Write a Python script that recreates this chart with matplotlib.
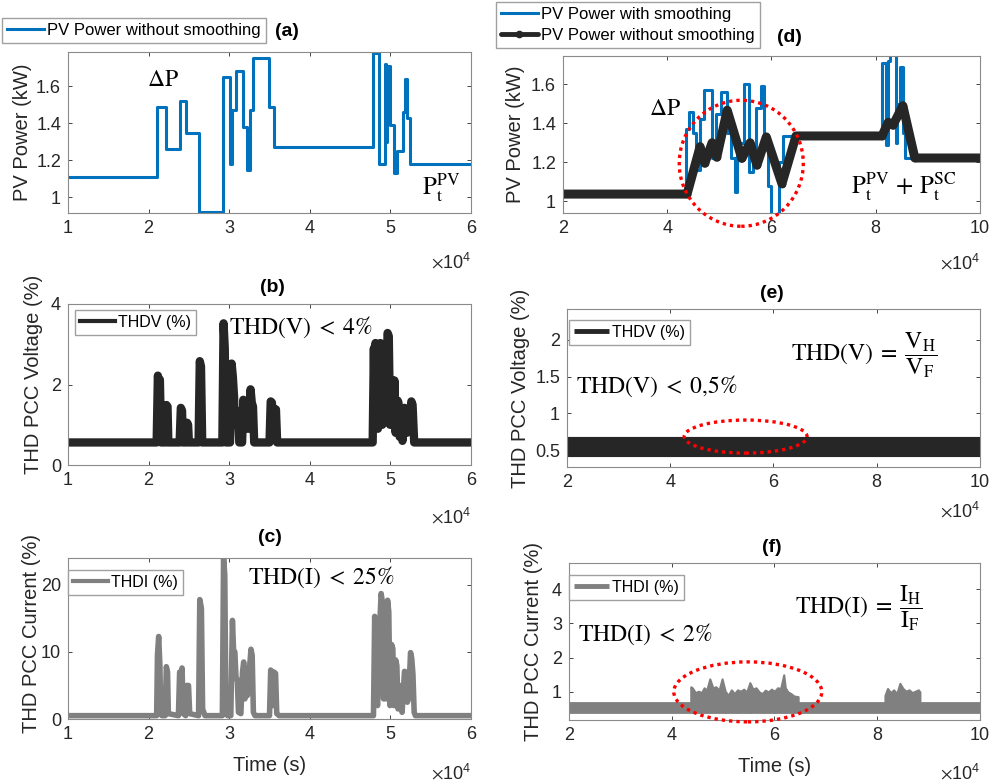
import matplotlib
matplotlib.use('Agg')
import matplotlib.pyplot as plt
from matplotlib.patches import Ellipse

plt.rcParams['font.family'] = ['Liberation Sans', 'DejaVu Sans']
plt.rcParams['mathtext.fontset'] = 'stix'
plt.rcParams['font.size'] = 12

BLUE = '#0072BD'
BLACK = '#262626'
GRAY = '#808080'
AXC = '#262626'

# ---- (a) PV power without smoothing, time in x10^4 s (step data)
a_t = [1.0, 2.10, 2.21, 2.39, 2.46, 2.63, 2.92, 3.01, 3.035, 3.09, 3.17, 3.22, 3.26,
       3.29, 3.50, 3.56, 4.79, 4.86, 4.93, 4.945, 4.955, 4.99, 5.04, 5.08, 5.16,
       5.18, 5.21, 5.24, 6.0]
a_p = [1.11, 1.49, 1.26, 1.52, 1.35, 0.92, 1.65, 1.18, 1.47, 1.68, 1.38, 1.15, 1.47,
       1.75, 1.49, 1.27, 1.78, 1.18, 1.72, 1.30, 1.71, 1.39, 1.13, 1.25, 1.46,
       1.64, 1.43, 1.18, 1.18]

# ---- (d) PV power with / without smoothing
d_blue_t = [2.0, 4.36, 4.42, 4.50, 4.56, 4.62, 4.70, 4.86, 4.94, 5.04, 5.14, 5.22,
            5.30, 5.34, 5.48, 5.56, 5.64, 5.70, 5.80, 5.86, 5.94, 6.00, 6.15, 6.22,
            8.12, 8.20, 8.23, 8.28, 8.38, 8.41, 8.46, 8.53, 8.57, 10.0]
d_blue_p = [1.035, 1.37, 1.46, 1.35, 1.16, 1.42, 1.57, 1.22, 1.45, 1.56, 1.35, 1.22,
            1.05, 1.30, 1.60, 1.15, 1.25, 1.48, 1.59, 1.30, 1.08, 0.935, 1.20, 1.335,
            1.71, 1.29, 1.72, 1.75, 1.30, 1.50, 1.69, 1.35, 1.22, 1.22]
d_black_t = [2.0, 4.38, 4.63, 4.72, 4.86, 4.95, 5.15, 5.43, 5.59, 5.72, 5.90, 6.20,
             6.47, 8.12, 8.24, 8.33, 8.52, 8.75, 10.0]
d_black_p = [1.037, 1.037, 1.28, 1.195, 1.30, 1.226, 1.467, 1.22, 1.30, 1.185, 1.33,
             1.09, 1.335, 1.335, 1.405, 1.39, 1.49, 1.222, 1.222]

# ---- (b) THD voltage without smoothing
b_t = [1.0, 2.10, 2.115, 2.13, 2.14, 2.155,
       2.21, 2.222, 2.235, 2.245,
       2.385, 2.40, 2.415, 2.425,
       2.465, 2.478, 2.49, 2.50,
       2.62, 2.635, 2.65, 2.665,
       2.915, 2.93, 2.945, 2.96,
       3.01, 3.03, 3.045, 3.06, 3.07, 3.09, 3.11, 3.125,
       3.16, 3.175, 3.19, 3.205, 3.22, 3.235, 3.25, 3.265, 3.28, 3.295, 3.31,
       3.50, 3.515, 3.53, 3.545, 3.56, 3.58, 3.595,
       4.78, 4.795, 4.805, 4.815, 4.83, 4.845, 4.875, 4.885, 4.90, 4.925, 4.94,
       4.965, 4.98, 4.995, 5.015, 5.03, 5.05, 5.065, 5.09, 5.10, 5.115, 5.135,
       5.15, 5.175, 5.19, 5.205, 5.22, 5.235, 5.26, 5.275, 5.295, 6.0]
b_v = [0.56, 0.56, 2.22, 2.05, 2.12, 0.56,
       0.56, 1.49, 1.45, 0.56,
       0.56, 1.42, 1.35, 0.56,
       0.56, 1.05, 1.0, 0.56,
       0.56, 2.58, 2.45, 0.56,
       0.56, 3.52, 2.9, 0.56,
       0.56, 2.52, 2.2, 1.7, 1.0, 1.35, 1.3, 0.56,
       0.56, 1.62, 1.1, 1.55, 1.3, 0.9, 1.35, 1.88, 1.55, 1.45, 0.56,
       0.56, 1.58, 1.55, 0.7, 1.4, 1.38, 0.56,
       0.56, 2.9, 1.2, 3.03, 2.8, 0.9, 3.03, 2.9, 1.0, 2.55, 1.2,
       3.28, 3.2, 1.0, 2.12, 1.0, 2.1, 0.8, 1.6, 1.55, 0.7, 0.95,
       0.6, 1.42, 1.4, 0.8, 1.38, 0.9, 1.58, 1.5, 0.56, 0.56]

# ---- (c) THD current without smoothing
c_t = [1.0, 2.10, 2.11, 2.125, 2.14, 2.15, 2.165,
       2.205, 2.22, 2.235, 2.245,
       2.37, 2.385, 2.40, 2.415, 2.43,
       2.46, 2.475, 2.495, 2.51,
       2.62, 2.635, 2.655, 2.67, 2.70,
       2.915, 2.93, 2.945, 2.96, 2.98,
       3.02, 3.04, 3.055, 3.07, 3.085, 3.10, 3.115,
       3.145, 3.165, 3.18, 3.195, 3.21, 3.225, 3.24, 3.255, 3.27, 3.285, 3.30, 3.32,
       3.50, 3.515, 3.53, 3.545, 3.555, 3.575, 3.59, 3.62,
       4.79, 4.805, 4.82, 4.84, 4.86, 4.885, 4.90, 4.915, 4.93, 4.945, 4.965,
       4.98, 4.995, 5.015, 5.03, 5.045, 5.065, 5.08, 5.095, 5.115, 5.13, 5.145,
       5.175, 5.195, 5.21, 5.225, 5.25, 5.265, 5.28, 5.295, 5.31, 6.0]
c_v = [0.5, 0.5, 9.5, 12.3, 8.0, 0.8, 0.5,
       0.5, 7.8, 7.0, 0.8,
       0.5, 7.0, 6.5, 7.6, 0.8,
       0.5, 5.0, 5.0, 0.8,
       0.5, 17.8, 16.5, 1.5, 0.5,
       0.5, 24.0, 21.5, 1.0, 0.5,
       0.5, 14.7, 10.0, 10.0, 6.0, 5.9, 1.0,
       0.8, 7.0, 8.5, 3.0, 7.2, 3.5, 7.5, 8.0, 10.4, 9.5, 1.0, 0.5,
       0.5, 7.3, 7.0, 2.0, 7.0, 6.8, 0.8, 0.5,
       0.5, 15.3, 9.0, 2.0, 12.0, 18.7, 17.5, 3.0, 10.7, 3.0, 17.7,
       16.0, 2.0, 11.1, 10.5, 2.0, 8.8, 8.0, 1.5, 5.0, 4.5, 1.0,
       7.1, 7.0, 2.5, 3.0, 9.9, 9.0, 6.6, 1.0, 0.5, 0.5]

# ---- (e) THD voltage with smoothing
e_t = [2.0, 10.0]
e_v = [0.54, 0.54]

# ---- (f) THD current with smoothing: baseline + two noisy bursts (envelopes)
f_t = [2.0, 10.0]
f_v = [0.535, 0.535]
f_b1_t = [4.37, 4.40, 4.46, 4.52, 4.58, 4.63, 4.68, 4.74, 4.80, 4.86, 4.92, 4.98,
          5.04, 5.10, 5.16, 5.22, 5.28, 5.34, 5.40, 5.46, 5.52, 5.58, 5.64, 5.70,
          5.76, 5.82, 5.88, 5.94, 6.00, 6.06, 6.12, 6.18, 6.21, 6.26, 6.32, 6.38, 6.46]
f_b1_hi = [1.15, 1.12, 0.98, 1.02, 0.98, 1.12, 1.05, 1.38, 1.12, 1.15, 1.05, 1.38,
           1.02, 0.90, 1.06, 0.95, 1.06, 1.02, 1.08, 1.00, 1.27, 1.08, 1.12, 1.00,
           0.95, 1.05, 1.00, 1.08, 1.02, 1.12, 1.10, 1.50, 1.12, 1.00, 0.95, 0.88, 0.86]
f_b1_lo = [0.50, 0.46, 0.42, 0.48, 0.44, 0.50, 0.41, 0.47, 0.43, 0.49, 0.42, 0.46,
           0.40, 0.47, 0.43, 0.50, 0.41, 0.46, 0.42, 0.48, 0.40, 0.45, 0.43, 0.49,
           0.41, 0.46, 0.42, 0.48, 0.40, 0.45, 0.43, 0.47, 0.41, 0.46, 0.44, 0.48, 0.50]
f_b2_t = [8.15, 8.20, 8.26, 8.32, 8.38, 8.44, 8.50, 8.56, 8.62, 8.68, 8.74, 8.80, 8.83]
f_b2_hi = [0.90, 1.10, 0.98, 1.06, 0.95, 1.25, 1.10, 1.02, 1.06, 0.98, 1.02, 1.06, 1.00]
f_b2_lo = [0.48, 0.45, 0.50, 0.44, 0.49, 0.46, 0.50, 0.45, 0.48, 0.44, 0.49, 0.47, 0.50]

W, H = 995, 784
fig = plt.figure(figsize=(W / 100, H / 100), dpi=100)


def rect(l, t, r, b):
    return [l / W, 1 - b / H, (r - l) / W, (b - t) / H]


def ftext(x, y, s, **kw):
    kw.setdefault('ha', 'center')
    kw.setdefault('va', 'center')
    fig.text(x / W, 1 - y / H, s, **kw)


def setup(ax, xlim, ylim, yticks, ylabel, ylab_x, ylab_y=0.5):
    ax.set_xlim(*xlim)
    ax.set_ylim(*ylim)
    ax.set_xticks(range(xlim[0], xlim[1] + 1, 1 if xlim[0] == 1 else 2))
    ax.set_yticks(yticks)
    ax.tick_params(direction='in', top=True, right=True, length=3, width=0.6,
                   colors=AXC, labelsize=13, pad=5)
    for sp in ax.spines.values():
        sp.set_color('#8a8a8a')
        sp.set_linewidth(0.8)
    ax.set_ylabel(ylabel, fontsize=14.5, color=AXC)
    ax.yaxis.set_label_coords(ylab_x, ylab_y)


def red_ellipse(ax, xy, w, h):
    ax.add_patch(Ellipse(xy, w, h, fill=False, edgecolor='red', lw=2.4,
                         linestyle=(0, (1, 1.2)), clip_on=False, zorder=5))


leg_kw = dict(fancybox=False, edgecolor='#a0a0a0', framealpha=1, borderpad=0.3,
              handletextpad=0.2, handlelength=2.2, borderaxespad=0)

# (a)
ax_a = fig.add_axes(rect(68, 52, 471, 213))
ax_a.plot(a_t, a_p, color=BLUE, lw=2.2, drawstyle='steps-post',
          label='PV Power without smoothing')
setup(ax_a, (1, 6), (0.915, 1.785), [1, 1.2, 1.4, 1.6], 'PV Power (kW)', -0.089)
ax_a.set_yticklabels(['1', '1.2', '1.4', '1.6'])
ax_a.legend(loc='upper left', bbox_to_anchor=(2 / W, 1 - 18 / H),
            bbox_transform=fig.transFigure, fontsize=12, **leg_kw)
ftext(287, 32, '(a)', fontweight='bold', fontsize=14)
ftext(163, 80, r'$\Delta\mathrm{P}$', fontsize=17)
ftext(441, 188, r'$\mathrm{P_t^{PV}}$', fontsize=18)

# (d)
ax_d = fig.add_axes(rect(563, 56, 980, 213))
ax_d.plot(d_blue_t, d_blue_p, color=BLUE, lw=2.2, drawstyle='steps-post',
          label='PV Power with smoothing')
ax_d.plot(d_black_t, d_black_p, color=BLACK, lw=6.5, marker='.', markersize=9,
          solid_joinstyle='round', solid_capstyle='round',
          label='PV Power without smoothing')
setup(ax_d, (2, 10), (0.94, 1.745), [1, 1.2, 1.4, 1.6], 'PV Power (kW)', -0.091)
ax_d.set_yticklabels(['1', '1.2', '1.4', '1.6'])
leg = ax_d.legend(loc='upper left', bbox_to_anchor=(496 / W, 1 - 2 / H),
                  bbox_transform=fig.transFigure, fontsize=12, labelspacing=0.35,
                  **leg_kw)
leg.get_lines()[1].set_linewidth(3.5)
red_ellipse(ax_d, (5.42, 1.195), 2.38, 0.646)
ftext(789, 37, '(d)', fontweight='bold', fontsize=14)
ftext(665, 109, r'$\Delta\mathrm{P}$', fontsize=17)
ftext(904, 187, r'$\mathrm{P_t^{PV}}\,+\,\mathrm{P_t^{SC}}$', fontsize=18)

# (b)
ax_b = fig.add_axes(rect(68, 304, 471, 465))
ax_b.plot(b_t, b_v, color=BLACK, lw=6, solid_joinstyle='round', label='THDV (%)')
setup(ax_b, (1, 6), (0, 4), [0, 2, 4], 'THD PCC Voltage (%)', -0.062, 0.56)
leg = ax_b.legend(loc='upper left', bbox_to_anchor=(0.017, 0.963), fontsize=11.5, **leg_kw)
leg.get_lines()[0].set_linewidth(3)
ftext(272, 288, '(b)', fontweight='bold', fontsize=14)
ftext(301, 327, r'$\mathrm{THD(V)}\;<\;4\%$', fontsize=17)

# (e)
ax_e = fig.add_axes(rect(567, 309, 980, 467))
ax_e.plot(e_t, e_v, color=BLACK, lw=14.5, solid_capstyle='butt', label='THDV (%)')
setup(ax_e, (2, 10), (0.27, 2.42), [0.5, 1, 1.5, 2], 'THD PCC Voltage (%)', -0.090)
ax_e.set_yticklabels(['0.5', '1', '1.5', '2'])
leg = ax_e.legend(loc='upper left', bbox_to_anchor=(0.005, 0.93), fontsize=11.5, **leg_kw)
leg.get_lines()[0].set_linewidth(3.5)
red_ellipse(ax_e, (5.46, 0.684), 2.38, 0.45)
ftext(772, 293, '(e)', fontweight='bold', fontsize=14)
ftext(864, 355, r'$\mathrm{THD(V)}\;=\;\dfrac{\mathrm{V_H}}{\mathrm{V_F}}$', fontsize=17)
ftext(657, 386, r'$\mathrm{THD(V)}\;<\;0{,}5\%$', fontsize=17)

# (c)
ax_c = fig.add_axes(rect(68, 558, 471, 719))
ax_c.plot(c_t, c_v, color=GRAY, lw=4, solid_joinstyle='round', label='THDI (%)')
setup(ax_c, (1, 6), (0, 24), [0, 10, 20], 'THD PCC Current (%)', -0.067, 0.53)
ax_c.set_xlabel('Time (s)', fontsize=14.5, color=AXC)
ax_c.xaxis.set_label_coords(0.5, -0.232)
leg = ax_c.legend(loc='upper left', bbox_to_anchor=(0.0, 0.925), fontsize=11.5, **leg_kw)
leg.get_lines()[0].set_linewidth(3)
ftext(270, 537, '(c)', fontweight='bold', fontsize=14)
ftext(321, 577, r'$\mathrm{THD(I)}\;<\;25\%$', fontsize=17)

# (f)
ax_f = fig.add_axes(rect(569, 563, 980, 720))
ax_f.plot(f_t, f_v, color=GRAY, lw=8.5, solid_capstyle='butt', label='THDI (%)')
ax_f.fill_between(f_b1_t, f_b1_lo, f_b1_hi, color=GRAY, lw=1.5, edgecolor=GRAY)
ax_f.fill_between(f_b2_t, f_b2_lo, f_b2_hi, color=GRAY, lw=1.5, edgecolor=GRAY)
setup(ax_f, (2, 10), (0.18, 4.76), [1, 2, 3, 4], 'THD PCC Current (%)', -0.063)
ax_f.set_xlabel('Time (s)', fontsize=14.5, color=AXC)
ax_f.xaxis.set_label_coords(0.5, -0.235)
leg = ax_f.legend(loc='upper left', bbox_to_anchor=(0.0, 0.924), fontsize=11.5, **leg_kw)
leg.get_lines()[0].set_linewidth(3.5)
red_ellipse(ax_f, (5.48, 1.0), 2.88, 1.75)
ftext(772, 547, '(f)', fontweight='bold', fontsize=14)
ftext(859, 608, r'$\mathrm{THD(I)}\;=\;\dfrac{\mathrm{I_H}}{\mathrm{I_F}}$', fontsize=17)
ftext(645, 634, r'$\mathrm{THD(I)}\;<\;2\%$', fontsize=17)

# x10^4 multipliers
for xr, yc in [(471, 262), (471, 517), (471, 773), (980, 263), (980, 511), (980, 773)]:
    ftext(xr, yc, r'$\times\mathregular{10^{4}}$', ha='right', fontsize=13, color=AXC)

fig.savefig('out.png', dpi=100)
